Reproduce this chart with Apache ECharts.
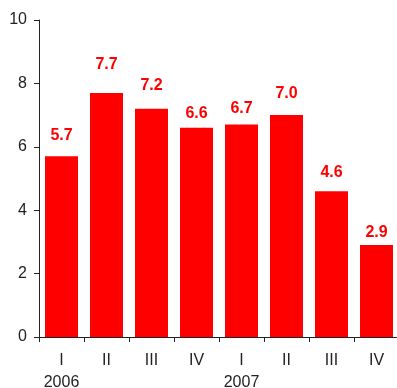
<!DOCTYPE html>
<html>
<head>
<meta charset="utf-8">
<script src="https://cdn.jsdelivr.net/npm/echarts@6/dist/echarts.min.js"></script>
<style>
  html, body { margin: 0; padding: 0; background: #fff; }
  #chart { width: 397px; height: 388px; }
</style>
</head>
<body>
<div id="chart"></div>
<script>
// Quarterly values, 2006–2007
const quarters = ['I', 'II', 'III', 'IV', 'I', 'II', 'III', 'IV'];
const years = ['2006', '', '', '', '2007', '', '', ''];
const values = [5.7, 7.7, 7.2, 6.6, 6.7, 7.0, 4.6, 2.9];
const yTicks = [0, 2, 4, 6, 8, 10];

// Hand-tuned gap (px) between each bar top and its value label
const labelGaps = [13, 20, 15, 6, 8, 14, 11, 4];

const chart = echarts.init(document.getElementById('chart'));
chart.setOption({
  animation: false,
  grid: { left: 39, top: 20, width: 360, height: 317, outerBoundsMode: 'none', containLabel: false },
  xAxis: {
    type: 'category',
    data: quarters.map((q, i) => q + '\n' + years[i]),
    axisLine: { lineStyle: { color: '#222', width: 1 } },
    axisTick: { show: true, interval: 0, length: 5, lineStyle: { color: '#222' } },
    axisLabel: {
      interval: 0,
      hideOverlap: false,
      color: '#222',
      fontFamily: 'Liberation Sans',
      fontSize: 16,
      lineHeight: 22,
      margin: 13
    }
  },
  yAxis: {
    type: 'value',
    min: yTicks[0],
    max: yTicks[yTicks.length - 1],
    interval: 2,
    splitLine: { show: false },
    axisLine: { show: true, lineStyle: { color: '#222', width: 1 } },
    axisTick: { show: true, length: 5, lineStyle: { color: '#222' } },
    axisLabel: {
      color: '#222',
      fontFamily: 'Liberation Sans',
      fontSize: 16,
      margin: 12
    }
  },
  series: [{
    type: 'bar',
    data: values.map((v, i) => ({ value: v, label: { distance: labelGaps[i] } })),
    barWidth: 33,
    itemStyle: { color: '#ff0000' },
    label: {
      show: true,
      position: 'top',
      color: '#ff0000',
      fontFamily: 'Liberation Sans',
      fontWeight: 'bold',
      fontSize: 16,
      formatter: p => p.value.toFixed(1)
    }
  }]
});
</script>
</body>
</html>
